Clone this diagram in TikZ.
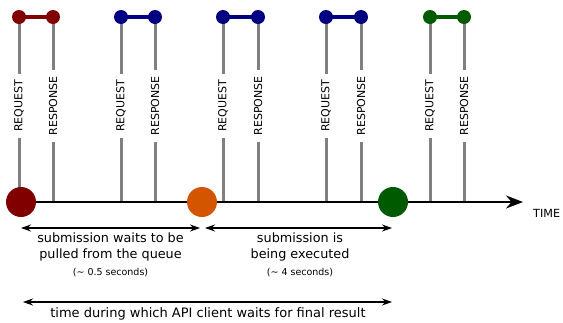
\documentclass[tikz,border=0pt]{standalone}
\usepackage{fontspec}
\setmainfont{DejaVu Sans}
\usetikzlibrary{arrows.meta, positioning}
\definecolor{evred}{RGB}{128,0,0}
\definecolor{evorange}{RGB}{212,85,0}
\definecolor{evblue}{RGB}{0,0,128}
\definecolor{evgreen}{RGB}{0,90,0}
\definecolor{wiregray}{RGB}{128,128,128}

\begin{document}
\begin{tikzpicture}[x=1pt, y=-1pt,
  event/.style={circle, minimum size=30pt, inner sep=0pt},
  knob/.style={circle, minimum size=14pt, inner sep=0pt},
  wire/.style={draw=wiregray, line width=3pt},
  tag/.style={rotate=90, inner sep=6pt, font=\fontsize{11}{13}\selectfont},
  span/.style={{Stealth[length=10pt, width=7pt]}-{Stealth[length=10pt, width=7pt]}, line width=1.2pt},
  note/.style={align=center, inner sep=0pt, font=\fontsize{12.8}{16}\selectfont},
  aside/.style={inner sep=0pt, font=\fontsize{9.5}{11}\selectfont}]
  \useasboundingbox (0,0) rectangle (563,322);
  \foreach \n/\xa/\xb/\c in {1/19/53/evred, 2/121/155/evblue, 3/223/258/evblue, 4/326/361/evblue, 5/430/464/evgreen} {
    \coordinate (qa\n) at (\xa,17);
    \coordinate (qb\n) at (\xa,202);
    \coordinate (sa\n) at (\xb,17);
    \coordinate (sb\n) at (\xb,202);
    \node[tag] (q\n) at (\xa,106) {REQUEST};
    \node[tag] (s\n) at (\xb,106) {RESPONSE};
    \draw[wire] (qa\n) -- (q\n.east);
    \draw[wire] (q\n.west) -- (qb\n);
    \draw[wire] (sa\n) -- (s\n.east);
    \draw[wire] (s\n.west) -- (sb\n);
    \draw[\c, line width=4pt] (qa\n) -- (sa\n);
    \node[knob, fill=\c] at (qa\n) {};
    \node[knob, fill=\c] at (sa\n) {};
  }
  \coordinate (t0) at (21,202);
  \coordinate (tend) at (523,202);
  \draw[line width=2pt, -{Stealth[length=17pt, width=13pt]}] (t0) -- (tend);
  \node[anchor=west, inner sep=0pt, font=\fontsize{11.2}{13}\selectfont] (time) at (533,213) {TIME};
  \node[event, fill=evred] (e1) at (21,202) {};
  \node[event, fill=evorange] (e2) at (202,202) {};
  \node[event, fill=evgreen] (e3) at (393,202) {};
  \coordinate (w0) at (21,228);
  \coordinate (w1) at (200,228);
  \coordinate (x0) at (205,228);
  \coordinate (x1) at (392,228);
  \coordinate (f0) at (23,302);
  \coordinate (f1) at (392,302);
  \draw[span] (w0) -- (w1);
  \draw[span] (x0) -- (x1);
  \draw[span] (f0) -- (f1);
  \node[note, anchor=north] (n1) at (110.5,233) {submission waits to be\\pulled from the queue};
  \node[aside, below=6pt of n1] (d1) {(\textasciitilde{} 0.5 seconds)};
  \node[note, anchor=north] (n2) at (300,233) {submission is\\being executed};
  \node[aside, below=6pt of n2] (d2) {(\textasciitilde{} 4 seconds)};
  \node[note, anchor=base, font=\fontsize{13}{16}\selectfont] (n3) at (208,317) {time during which API client waits for final result};
\end{tikzpicture}
\end{document}
